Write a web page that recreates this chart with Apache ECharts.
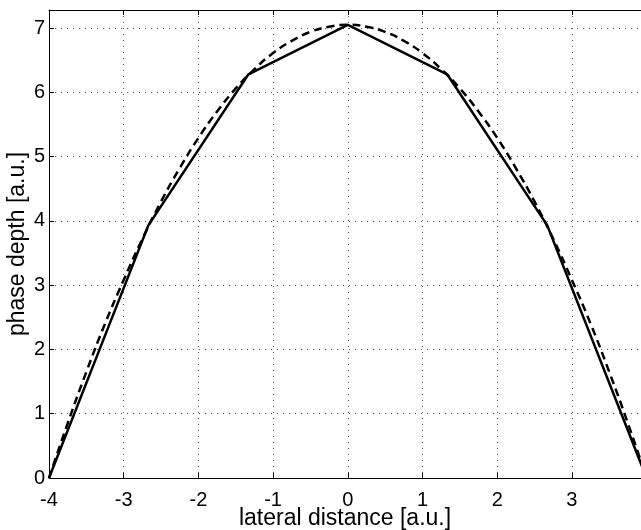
<!DOCTYPE html>
<html>
<head>
<meta charset="utf-8">
<script src="https://cdn.jsdelivr.net/npm/echarts@6/dist/echarts.min.js"></script>
<style>
  html, body { margin: 0; padding: 0; background: #fff; }
  #main { width: 641px; height: 530px; }
</style>
</head>
<body>
<div id="main"></div>
<script>
// piecewise linear profile (solid)
var xSolid = [-4, -2.67, -1.33, 0, 1.33, 2.67, 4];
var ySolid = [0, 3.93, 6.28, 7.05, 6.28, 3.93, 0];

// smooth profile (dashed)
var xDash = [-4, -3.75, -3.5, -3.25, -3, -2.75, -2.5, -2.25, -2, -1.75, -1.5, -1.25, -1, -0.75, -0.5, -0.25, 0,
  0.25, 0.5, 0.75, 1, 1.25, 1.5, 1.75, 2, 2.25, 2.5, 2.75, 3, 3.25, 3.5, 3.75, 4];
var yDash = [0, 0.85, 1.65, 2.40, 3.08, 3.72, 4.30, 4.82, 5.29, 5.70, 6.06, 6.36, 6.61, 6.80, 6.94, 7.02, 7.05,
  7.02, 6.94, 6.80, 6.61, 6.36, 6.06, 5.70, 5.29, 4.82, 4.30, 3.72, 3.08, 2.40, 1.65, 0.85, 0];

var xLabels = ['-4', '-3', '-2', '-1', '0', '1', '2', '3'];
var yLabels = ['0', '1', '2', '3', '4', '5', '6', '7'];

function pairs(xs, ys) {
  var out = [];
  for (var i = 0; i < xs.length; i++) out.push([xs[i], ys[i]]);
  return out;
}

var font = 'Liberation Sans, Arial, Helvetica, sans-serif';

var myChart = echarts.init(document.getElementById('main'));

// the picture is cropped on the right, a bit short of x = 4
var xMax = 3.925;

var option = {
  animation: false,
  backgroundColor: '#fff',
  grid: { left: 49, right: 0, top: 10, bottom: 52, containLabel: false, outerBoundsMode: 'none' },
  xAxis: [{
    type: 'value', min: -4, max: xMax, interval: 1,
    name: 'lateral distance [a.u.]', nameLocation: 'middle', nameGap: 29, nameMoveOverlap: false,
    nameTextStyle: { fontFamily: font, fontSize: 23, color: '#000' },
    axisLine: { show: true, onZero: false, lineStyle: { color: '#000', width: 1 } },
    axisTick: { show: true, inside: true, length: 5, lineStyle: { color: '#000' } },
    axisLabel: {
      margin: 12, fontFamily: font, fontSize: 20, color: '#000',
      formatter: function (v) { var i = Math.round(v) + 4; return (Math.abs(v - Math.round(v)) < 1e-6 && i < xLabels.length) ? xLabels[i] : ''; }
    },
    splitLine: { show: true, lineStyle: { color: '#555', width: 1, type: [1, 5] } }
  }, {
    type: 'value', min: -4, max: xMax, interval: 1, position: 'top',
    axisLine: { show: true, onZero: false, lineStyle: { color: '#000', width: 1 } },
    axisTick: { show: true, inside: true, length: 5, lineStyle: { color: '#000' } },
    axisLabel: { show: false },
    splitLine: { show: false }
  }],
  yAxis: [{
    type: 'value', min: 0, max: 7.28, interval: 1,
    name: 'phase depth [a.u.]', nameLocation: 'middle', nameGap: 20, nameMoveOverlap: false,
    nameTextStyle: { fontFamily: font, fontSize: 23, color: '#000' },
    axisLine: { show: true, onZero: false, lineStyle: { color: '#000', width: 1 } },
    axisTick: { show: true, inside: true, length: 5, lineStyle: { color: '#000' } },
    axisLabel: {
      margin: 4, fontFamily: font, fontSize: 20, color: '#000',
      formatter: function (v) { var i = Math.round(v); return (Math.abs(v - i) < 1e-6 && i < yLabels.length) ? yLabels[i] : ''; }
    },
    splitLine: { show: true, lineStyle: { color: '#555', width: 1, type: [1, 5] } }
  }],
  series: [{
    name: 'solid', type: 'line', xAxisIndex: 0, yAxisIndex: 0,
    data: pairs(xSolid, ySolid),
    showSymbol: false, symbol: 'none',
    lineStyle: { color: '#000', width: 2.5, type: 'solid' }
  }, {
    name: 'dashed', type: 'line', xAxisIndex: 0, yAxisIndex: 0,
    data: pairs(xDash, yDash),
    smooth: true, showSymbol: false, symbol: 'none',
    lineStyle: { color: '#000', width: 2.5, type: [8, 5] }
  }]
};

myChart.setOption(option);
</script>
</body>
</html>
